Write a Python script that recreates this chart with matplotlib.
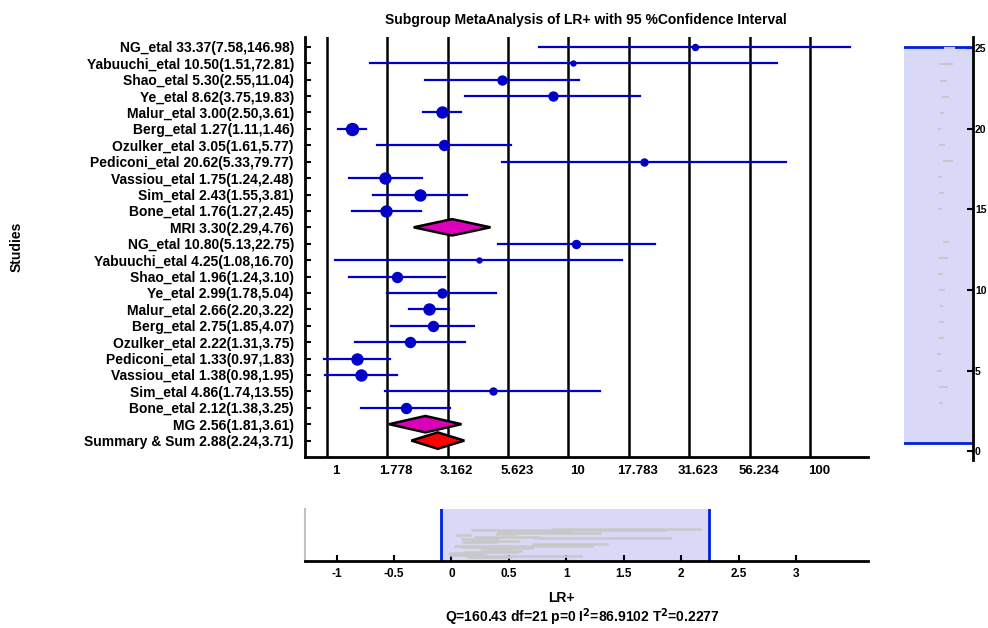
import numpy as np
import matplotlib
matplotlib.use("Agg")
import matplotlib.pyplot as plt
from matplotlib.transforms import ScaledTranslation

plt.rcParams['font.family'] = ['Liberation Sans', 'DejaVu Sans']
plt.rcParams['font.weight'] = 'bold'

# MRI subgroup
mri_names = ["NG_etal", "Yabuuchi_etal", "Shao_etal", "Ye_etal", "Malur_etal", "Berg_etal",
             "Ozulker_etal", "Pediconi_etal", "Vassiou_etal", "Sim_etal", "Bone_etal"]
mri_lr = [33.37, 10.50, 5.30, 8.62, 3.00, 1.27, 3.05, 20.62, 1.75, 2.43, 1.76]
mri_lo = [7.58, 1.51, 2.55, 3.75, 2.50, 1.11, 1.61, 5.33, 1.24, 1.55, 1.27]
mri_hi = [146.98, 72.81, 11.04, 19.83, 3.61, 1.46, 5.77, 79.77, 2.48, 3.81, 2.45]
mri_wt = [3.3, 2.3, 7.4, 7.4, 11.1, 13.2, 9.2, 4.5, 11.1, 11.1, 11.1]   # estimated weights
mri_pool = ("MRI", 3.30, 2.29, 4.76)

# MG subgroup
mg_names = ["NG_etal", "Yabuuchi_etal", "Shao_etal", "Ye_etal", "Malur_etal", "Berg_etal",
            "Ozulker_etal", "Pediconi_etal", "Vassiou_etal", "Sim_etal", "Bone_etal"]
mg_lr = [10.80, 4.25, 1.96, 2.99, 2.66, 2.75, 2.22, 1.33, 1.38, 4.86, 2.12]
mg_lo = [5.13, 1.08, 1.24, 1.78, 2.20, 1.85, 1.31, 0.97, 0.98, 1.74, 1.38]
mg_hi = [22.75, 16.70, 3.10, 5.04, 3.22, 4.07, 3.75, 1.83, 1.95, 13.55, 3.25]
mg_wt = [5.9, 2.3, 9.2, 7.4, 11.1, 9.2, 9.2, 11.1, 11.1, 4.5, 9.2]
mg_pool = ("MG", 2.56, 1.81, 3.61)

total_pool = ("Summary & Sum", 2.88, 2.24, 3.71)

grid_logs = [0, 0.25, 0.5, 0.75, 1.0, 1.25, 1.5, 1.75, 2.0]
view_log = (-0.09, 2.24)          # current x view (log10 LR+)
stats_text = r"Q=160.43 df=21 p=0 I$^{\mathbf{2}}$=86.9102 T$^{\mathbf{2}}$=0.2277"

BLUE = "#0000c8"
W, H = 988, 628
fig = plt.figure(figsize=(W / 100, H / 100), dpi=100)

# build rows top -> bottom
rows = []
for names, lr, lo, hi, wt, pool in [(mri_names, mri_lr, mri_lo, mri_hi, mri_wt, mri_pool),
                                    (mg_names, mg_lr, mg_lo, mg_hi, mg_wt, mg_pool)]:
    for i in range(len(names)):
        rows.append(("study", names[i], lr[i], lo[i], hi[i], wt[i]))
    rows.append(("sub",) + pool + (None,))
rows.append(("total",) + total_pool + (None,))
n = len(rows)
ypos = np.arange(n, 0, -1)

# ---------------- main forest plot ----------------
ax = fig.add_axes([305 / W, 1 - 457 / H, 563 / W, 420 / H])
ax.set_xscale('log')
for g in grid_logs:
    ax.axvline(10 ** g, color='black', lw=1.8, zorder=1)

labels = []
for (kind, name, lr, lo, hi, wt), y in zip(rows, ypos):
    labels.append(f"{name} {lr:.2f}({lo:.2f},{hi:.2f})")
    if kind == "study":
        ax.plot([lo, hi], [y, y], color=BLUE, lw=1.6, zorder=3)
        ax.plot(lr, y, 'o', color=BLUE, ms=3.3 * np.sqrt(wt) * 0.72, zorder=4)
    else:
        h = 0.5
        fc = '#dd00bb' if kind == "sub" else '#ff0000'
        ax.fill([lo, lr, hi, lr], [y, y + h, y, y - h], facecolor=fc,
                edgecolor='black', lw=1.8, zorder=4)

ax.set_xlim(10 ** view_log[0], 10 ** view_log[1])
ax.set_ylim(0, 25.6)
ax.set_yticks(ypos)
ax.set_yticklabels(labels, fontsize=10, fontweight='bold')
ax.tick_params(axis='y', direction='in', length=4, width=1.5, pad=8)
ax.set_xticks([10 ** g for g in grid_logs])
ax.set_xticklabels([f"{10 ** g:.3f}".rstrip('0').rstrip('.') for g in grid_logs],
                   fontsize=9.5, fontweight='bold')
ax.xaxis.set_minor_locator(plt.NullLocator())
ax.tick_params(axis='x', length=0, pad=6)
for lab in ax.get_xticklabels():
    lab.set_transform(lab.get_transform() + ScaledTranslation(9 / 100, 0, fig.dpi_scale_trans))
for s in ['top', 'right']:
    ax.spines[s].set_visible(False)
for s in ['left', 'bottom']:
    ax.spines[s].set_linewidth(2)

fig.text(586 / W, 1 - 20 / H, "Subgroup MetaAnalysis of LR+ with 95 %Confidence Interval",
         ha='center', va='center', fontsize=10, fontweight='bold')
fig.text(17 / W, 1 - 247 / H, "Studies", rotation=90, ha='center', va='center',
         fontsize=10, fontweight='bold')

# ---------------- right overview (rows) ----------------
axr = fig.add_axes([904 / W, 1 - 460 / H, 69 / W, 423 / H])
axr.axhspan(0.5, 25.05, color='#d9d9f7', zorder=0)
axr.axhline(0.5, color='#0022dd', lw=2)
axr.axhline(25.05, color='#0022dd', lw=2)
for (kind, name, lr, lo, hi, wt), y in zip(rows, ypos):
    if kind == "study":
        axr.plot([np.log10(lo), np.log10(hi)], [y, y], color='#c8c8c8', lw=1.5,
                 solid_capstyle='projecting')
axr.set_xlim(-4.7, 4.7)
axr.set_ylim(-0.55, 25.7)
axr.set_xticks([])
axr.yaxis.tick_right()
axr.set_yticks([0, 5, 10, 15, 20, 25])
axr.tick_params(axis='y', direction='in', length=4, width=1.5, labelsize=7.5, pad=1.5)
for s in ['top', 'left', 'bottom']:
    axr.spines[s].set_visible(False)
axr.spines['right'].set_linewidth(2)

# ---------------- bottom overview (x range) ----------------
axb = fig.add_axes([305 / W, 1 - 561 / H, 563 / W, 52 / H])
axb.axvspan(view_log[0], view_log[1], color='#d9d9f7', zorder=0)
axb.axvline(view_log[0], color='#0022dd', lw=2)
axb.axvline(view_log[1], color='#0022dd', lw=2)
for (kind, name, lr, lo, hi, wt), y in zip(rows, ypos):
    if kind == "study":
        axb.plot([np.log10(lo), np.log10(hi)], [y, y], color='#c8c8c8', lw=1.8)
axb.set_xlim(-1.276, 3.628)
axb.set_ylim(0, 40.6)
axb.set_yticks([])
bt = [-1, -0.5, 0, 0.5, 1, 1.5, 2, 2.5, 3]
axb.set_xticks(bt)
axb.set_xticklabels([f"{v:g}" for v in bt], fontsize=8.5, fontweight='bold')
axb.tick_params(axis='x', direction='in', length=4, width=1.5, pad=5)
for s in ['top', 'right']:
    axb.spines[s].set_visible(False)
axb.spines['bottom'].set_linewidth(2)
axb.spines['left'].set_color('#c0c0c0')
axb.spines['left'].set_linewidth(1.5)

fig.text(561 / W, 1 - 598 / H, "LR+", ha='center', va='center', fontsize=10, fontweight='bold')
fig.text(582 / W, 1 - 622 / H, stats_text, ha='center', va='baseline', fontsize=10,
         fontweight='bold')

fig.savefig("out.png", dpi=100)
